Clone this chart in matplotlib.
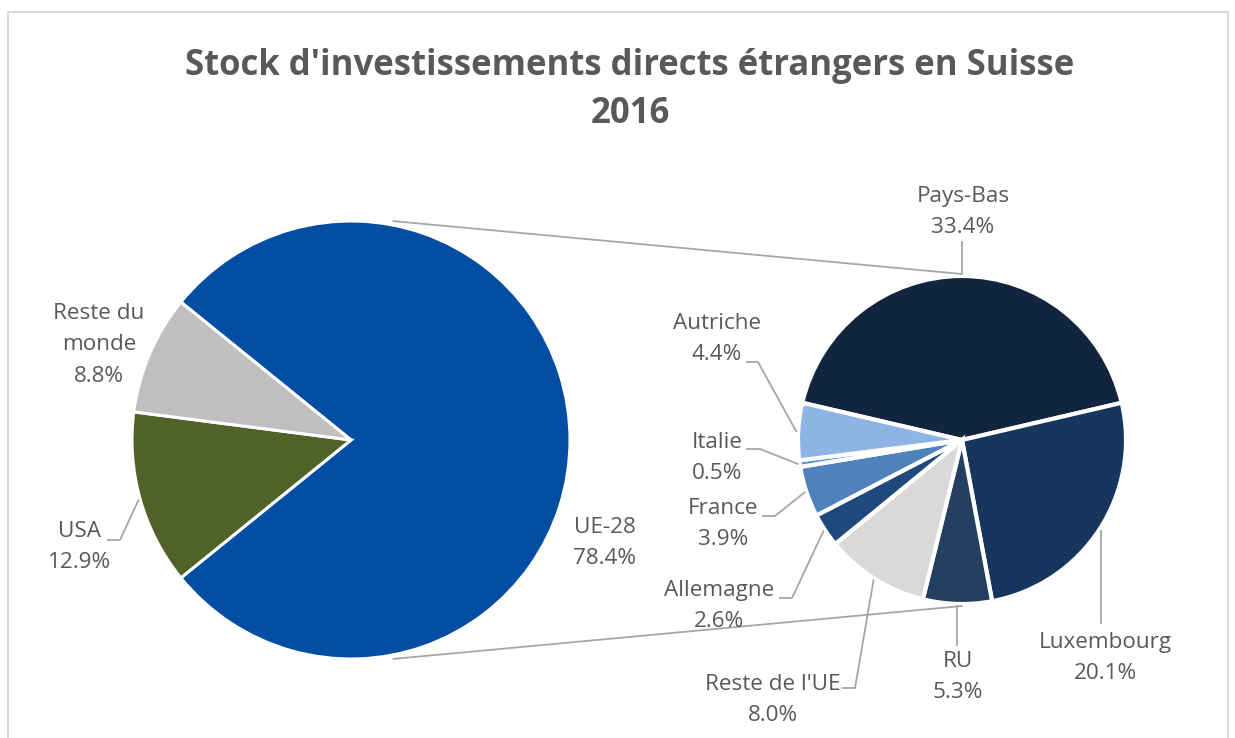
import numpy as np
import matplotlib.pyplot as plt
from matplotlib.patches import Rectangle

plt.rcParams['font.family'] = ['Open Sans', 'DejaVu Sans']

# main pie (% of total stock)
main_labels = ["UE-28", "USA", "Reste du\nmonde"]
main_values = [78.4, 12.9, 8.8]
main_colors = ["#034EA2", "#4F6228", "#BFBFBF"]

# breakdown of UE-28 (% of total stock)
eu_labels = ["Pays-Bas", "Luxembourg", "RU", "Reste de l'UE",
             "Allemagne", "France", "Italie", "Autriche"]
eu_values = [33.4, 20.1, 5.3, 8.0, 2.6, 3.9, 0.5, 4.4]
eu_colors = ["#12253F", "#17365D", "#253F61", "#D9D9D9",
             "#1F497D", "#4F81BD", "#558ED5", "#8DB4E2"]

W, H = 1235, 738
GREY = "#595959"
LEAD = "#A6A6A6"

def P(x, y):
    # pixel coords (y down) -> axes coords (y up)
    return x, H - y

fig = plt.figure(figsize=(W / 100, H / 100), dpi=100)
ax = fig.add_axes([0, 0, 1, 1])

c1, r1 = P(351, 440), 219
c2, r2 = P(962, 440), 164

w1, _ = ax.pie(main_values, colors=main_colors, center=c1, radius=r1,
               startangle=180 * main_values[0] / sum(main_values),
               counterclock=False,
               wedgeprops=dict(edgecolor="white", linewidth=2.2))
w2, _ = ax.pie(eu_values, colors=eu_colors, center=c2, radius=r2,
               startangle=90 + 180 * eu_values[0] / sum(eu_values),
               counterclock=False,
               wedgeprops=dict(edgecolor="white", linewidth=3))

ax.set_xlim(0, W)
ax.set_ylim(0, H)
ax.set_aspect("equal")
ax.axis("off")

# connector lines between the two pies
for a, s in [(79, 1), (-79, -1)]:
    x0 = c1[0] + (r1 + 4) * np.cos(np.radians(a))
    y0 = c1[1] + (r1 + 4) * np.sin(np.radians(a))
    ax.plot([x0, c2[0]], [y0, c2[1] + s * (r2 + 2)], color=LEAD, lw=1.3)

def edge_point(w, extra=2):
    t = np.radians((w.theta1 + w.theta2) / 2)
    cx, cy = w.center
    return cx + (w.r + extra) * np.cos(t), cy + (w.r + extra) * np.sin(t)

def pct(v):
    return f"{v:.1f}%"

fs = 16.2
ls = 1.68
# label block centres (pixels)
main_pos = {"UE-28": (605, 543), "USA": (80, 547), "Reste du\nmonde": (99, 345)}
eu_pos = {"Pays-Bas": (963, 212), "Luxembourg": (1105, 658), "RU": (958, 677),
          "Reste de l'UE": (773, 700), "Allemagne": (719, 606),
          "France": (723, 524), "Italie": (717, 458), "Autriche": (717, 339)}

for lab, v in zip(main_labels, main_values):
    x, y = P(*main_pos[lab])
    ax.text(x, y, f"{lab}\n{pct(v)}", ha="center", va="center",
            fontsize=fs, color=GREY, linespacing=ls)
for lab, v in zip(eu_labels, eu_values):
    x, y = P(*eu_pos[lab])
    ax.text(x, y, f"{lab}\n{pct(v)}", ha="center", va="center",
            fontsize=fs, color=GREY, linespacing=ls)

# leader lines: elbow style (start x, y, elbow x) and vertical ones (start y)
elbow = {"USA": (108, 540, 120)}
elbow_eu = {"Autriche": (747, 362, 758), "Italie": (747, 449, 760),
            "France": (763, 516, 775), "Allemagne": (780, 598, 792),
            "Reste de l'UE": (843, 688, 855)}
vert_eu = {"Pays-Bas": 242, "RU": 645, "Luxembourg": 623}

for lab, w in zip(main_labels, w1):
    if lab in elbow:
        xs, ys, xe = elbow[lab]
        ex, ey = edge_point(w)
        ax.plot([xs, xe, ex], [H - ys, H - ys, ey], color=LEAD, lw=1.3)
for lab, w in zip(eu_labels, w2):
    ex, ey = edge_point(w)
    if lab in elbow_eu:
        xs, ys, xe = elbow_eu[lab]
        ax.plot([xs, xe, ex], [H - ys, H - ys, ey], color=LEAD, lw=1.3)
    elif lab in vert_eu:
        ax.plot([ex, ex], [H - vert_eu[lab], ey], color=LEAD, lw=1.3)

ax.text(*P(630, 90), "Stock d'investissements directs étrangers en Suisse\n2016",
        ha="center", va="center", fontsize=25, fontweight="bold",
        color=GREY, linespacing=1.42)

fig.patches.append(Rectangle((8, -10), 1220, H - 12 + 10, transform=None,
                             fill=False, edgecolor="#D9D9D9", lw=1.5))

fig.savefig("out.png", dpi=100)
